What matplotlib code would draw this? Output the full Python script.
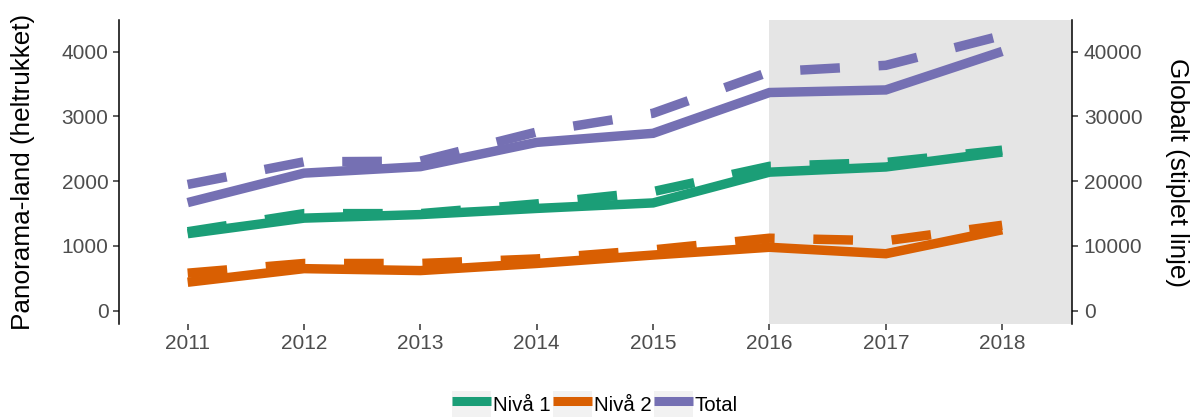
import matplotlib
matplotlib.use("Agg")
import matplotlib.pyplot as plt
from matplotlib.lines import Line2D
from matplotlib.patches import Patch
from matplotlib.legend_handler import HandlerLine2D

plt.rcParams['font.family'] = ['Liberation Sans', 'DejaVu Sans']

years = [2011, 2012, 2013, 2014, 2015, 2016, 2017, 2018]
series_names = ["Nivå 1", "Nivå 2", "Total"]

# Panorama-land (left axis, solid)
panorama_niva1 = [1190, 1430, 1485, 1580, 1665, 2140, 2220, 2450]
panorama_niva2 = [440, 650, 620, 730, 860, 980, 880, 1250]
panorama_total = [1670, 2125, 2225, 2600, 2740, 3370, 3410, 4005]

# Globalt (right axis, dashed)
global_niva1 = [12200, 15000, 15000, 16500, 18400, 22300, 22900, 24800]
global_niva2 = [5800, 7300, 7300, 8000, 9400, 11200, 10800, 13200]
global_total = [19500, 23000, 23100, 27600, 30500, 36900, 37900, 42500]

colors = ["#1B9E77", "#D95F02", "#7570B3"]
left_ticks = [0, 1000, 2000, 3000, 4000]
right_ticks = [0, 10000, 20000, 30000, 40000]
shade_start = 2016

W, H = 1195, 418
fig = plt.figure(figsize=(W / 100, H / 100), dpi=100)
ax = fig.add_axes([119 / W, 1 - 324 / H, (1072 - 119) / W, (324 - 20) / H])
ax2 = ax.twinx()

xlim = (2010.41, 2018.60)
ax.set_xlim(*xlim)
ax.set_ylim(-205, 4490)
ax2.set_ylim(-2050, 44900)

ax.axvspan(shade_start, xlim[1], color="#E5E5E5", lw=0, zorder=0)

lw = 6.8
panorama = [panorama_niva1, panorama_niva2, panorama_total]
globalt = [global_niva1, global_niva2, global_total]
for vals, c in zip(globalt, colors):
    ax2.plot(years, vals, color=c, lw=lw, linestyle=(0, (4.2, 4.1)),
             dash_capstyle="butt", solid_capstyle="butt", dash_joinstyle="miter")
for vals, c in zip(panorama, colors):
    ax.plot(years, vals, color=c, lw=lw, solid_capstyle="butt",
            solid_joinstyle="miter", zorder=3)

tick_color = "#4D4D4D"
for a in (ax, ax2):
    for s in ("top", "bottom"):
        a.spines[s].set_visible(False)
    a.set_facecolor("none")
ax.spines["right"].set_visible(False)
ax.spines["left"].set_linewidth(1.1)
ax2.spines["left"].set_visible(False)
ax2.spines["right"].set_linewidth(1.1)

ax.set_xticks(years)
ax.set_xticklabels([str(y) for y in years])
ax.set_yticks(left_ticks)
ax.set_yticklabels([str(v) for v in left_ticks])
ax2.set_yticks(right_ticks)
ax2.set_yticklabels([str(v) for v in right_ticks])

ax.tick_params(axis="x", length=4.5, width=1.1, color="#333333", labelsize=15,
               labelcolor=tick_color, pad=3)
ax.tick_params(axis="y", length=4.5, width=1.1, color="#333333", labelsize=15,
               labelcolor=tick_color, pad=3)
ax2.tick_params(axis="y", length=4.5, width=1.1, color="#333333", labelsize=15,
                labelcolor=tick_color, pad=4)

fig.text(23 / W, 1 - 172 / H, "Panorama-land (heltrukket)", rotation=90,
         ha="center", va="center", fontsize=18.8, color="black")
fig.text(1177 / W, 1 - 172 / H, "Globalt (stiplet linje)", rotation=270,
         ha="center", va="center", fontsize=18.8, color="black")

handles = [(Patch(facecolor="#F2F2F2", edgecolor="none"),
            Line2D([], [], color=c, lw=6.5, solid_capstyle="butt")) for c in colors]
leg = fig.legend(handles, series_names, loc="center", bbox_to_anchor=(0.498, 1 - 404 / H),
                 ncol=3, frameon=False, fontsize=14.7, handlelength=1.9, handleheight=1.6,
                 handletextpad=0.08, columnspacing=0.15, borderpad=0, borderaxespad=0,
                 handler_map={Line2D: HandlerLine2D(marker_pad=0.15)})

fig.savefig("out.png", dpi=100)
